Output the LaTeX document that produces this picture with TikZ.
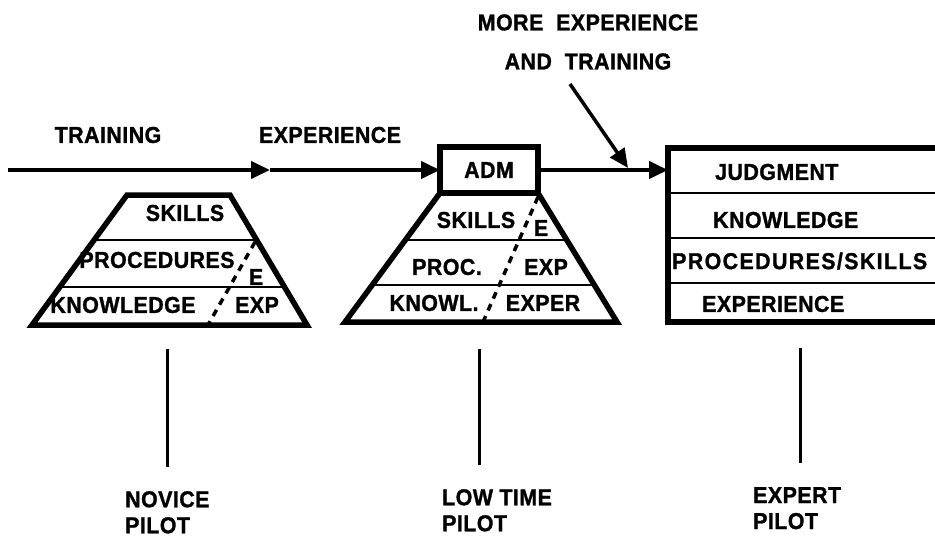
\documentclass[tikz,border=0pt]{standalone}
\usepackage{fontspec}
\setmainfont[LetterSpace=2,FakeStretch=0.93,FakeBold=1.2]{Liberation Sans}
\usepackage{tikz}
\usetikzlibrary{arrows.meta,calc}
\tikzset{lbl/.style={inner sep=0pt,font=\bfseries\fontsize{23}{26}\selectfont}}
\tikzset{flow/.style={-{Triangle[length=19pt,width=17pt]},line width=4pt}}
\tikzset{rim/.style={line width=5.5pt,line join=miter}}
\tikzset{divider/.style={line width=2pt}}
\tikzset{expline/.style={line width=3.5pt,dash pattern=on 7pt off 6pt}}
\tikzset{stem/.style={line width=3pt}}

\begin{document}
\begin{tikzpicture}[x=1pt,y=-1pt]
% \draw[help lines] (0,0) grid (935,538);
\useasboundingbox (0,0) rectangle (935,538);
%
% novice pyramid
\coordinate (ntl) at (127,195);
\coordinate (ntr) at (230,195);
\coordinate (nbl) at (32,325);
\coordinate (nbr) at (307,325);
\draw[divider] ($(ntl)!0.346!(nbl)$) -- ($(ntr)!0.346!(nbr)$);
\draw[divider] ($(ntl)!0.708!(nbl)$) -- ($(ntr)!0.708!(nbr)$);
\draw[rim] (ntl) -- (ntr) -- (nbr) -- (nbl) -- cycle;
\draw[expline] (255,242) -- (208,325);
\node (nskills) [lbl] at (185,213) {SKILLS};
\node (nproc) [lbl] at (157,260) {PROCEDURES};
\node (ne) [lbl] at (256,277) {E};
\node (nknow) [lbl] at (123,305) {KNOWLEDGE};
\node (nexp) [lbl] at (257,305) {EXP};
%
% low time pyramid
\node (adm) [lbl,draw,rim,minimum width=98pt,minimum height=46pt,outer sep=0pt] at (489,170) {ADM};
\coordinate (lbl) at (345,322);
\coordinate (lbr) at (617,322);
\draw[divider] ($(adm.south west)!0.364!(lbl)$) -- ($(adm.south east)!0.364!(lbr)$);
\draw[divider] ($(adm.south west)!0.713!(lbl)$) -- ($(adm.south east)!0.713!(lbr)$);
\draw[rim] (adm.south west) -- (lbl) -- (lbr) -- (adm.south east);
\draw[expline] (538,197) -- (483,322);
\node (lskills) [lbl] at (476,220) {SKILLS};
\node (le) [lbl] at (541,228) {E};
\node (lproc) [lbl] at (447,267) {PROC.};
\node (lexp) [lbl] at (546,267) {EXP};
\node (lknow) [lbl] at (434,303) {KNOWL.};
\node (lexper) [lbl] at (543,303) {EXPER};
%
% expert box
\draw[divider] (668,193) -- (935,193);
\draw[divider] (668,238) -- (935,238);
\draw[divider] (668,283) -- (935,283);
\draw[rim] (935,148) -- (668,148) -- (668,322) -- (935,322);
\node (judg) [lbl,anchor=west] at (715,172) {JUDGMENT};
\node (eknow) [lbl,anchor=west] at (713,220) {KNOWLEDGE};
\node (eproc) [lbl,anchor=west] at (672,261) {\addfontfeature{LetterSpace=6}PROCEDURES/SKILLS};
\node (eexp) [lbl,anchor=west] at (702,304) {EXPERIENCE};
%
% flow line
\coordinate (start) at (8,170);
\coordinate (mid) at (270,170);
\coordinate (expin) at (668,170);
\node (training) [lbl] at (108,135) {TRAINING};
\node (experience) [lbl] at (330,135) {EXPERIENCE};
{\path[flow] (start) edge (mid);}
{\path[flow] (mid) edge (adm);}
{\path[flow] (adm) edge (expin);}
%
\node (more) [lbl,align=center] at (588,42) {MORE\ \ EXPERIENCE\\[13pt]AND\ \ TRAINING};
\coordinate (mfoot) at (570,84);
\coordinate (join) at (628,168);
{\path[flow,line width=3.5pt] (mfoot) edge (join);}
%
% stages
\coordinate (ns) at (167,349);
\coordinate (nt) at (167,467);
\coordinate (ls) at (479,349);
\coordinate (lt) at (479,465);
\coordinate (es) at (800,348);
\coordinate (et) at (800,463);
{\path[stem] (ns) edge (nt);}
{\path[stem] (ls) edge (lt);}
{\path[stem] (es) edge (et);}
\node (novice) [lbl,anchor=north west,align=left] at (125,491) {NOVICE\\PILOT};
\node (lowtime) [lbl,anchor=north west,align=left] at (442,489) {LOW TIME\\PILOT};
\node (expert) [lbl,anchor=north west,align=left] at (753,487) {EXPERT\\PILOT};
\end{tikzpicture}
\end{document}
